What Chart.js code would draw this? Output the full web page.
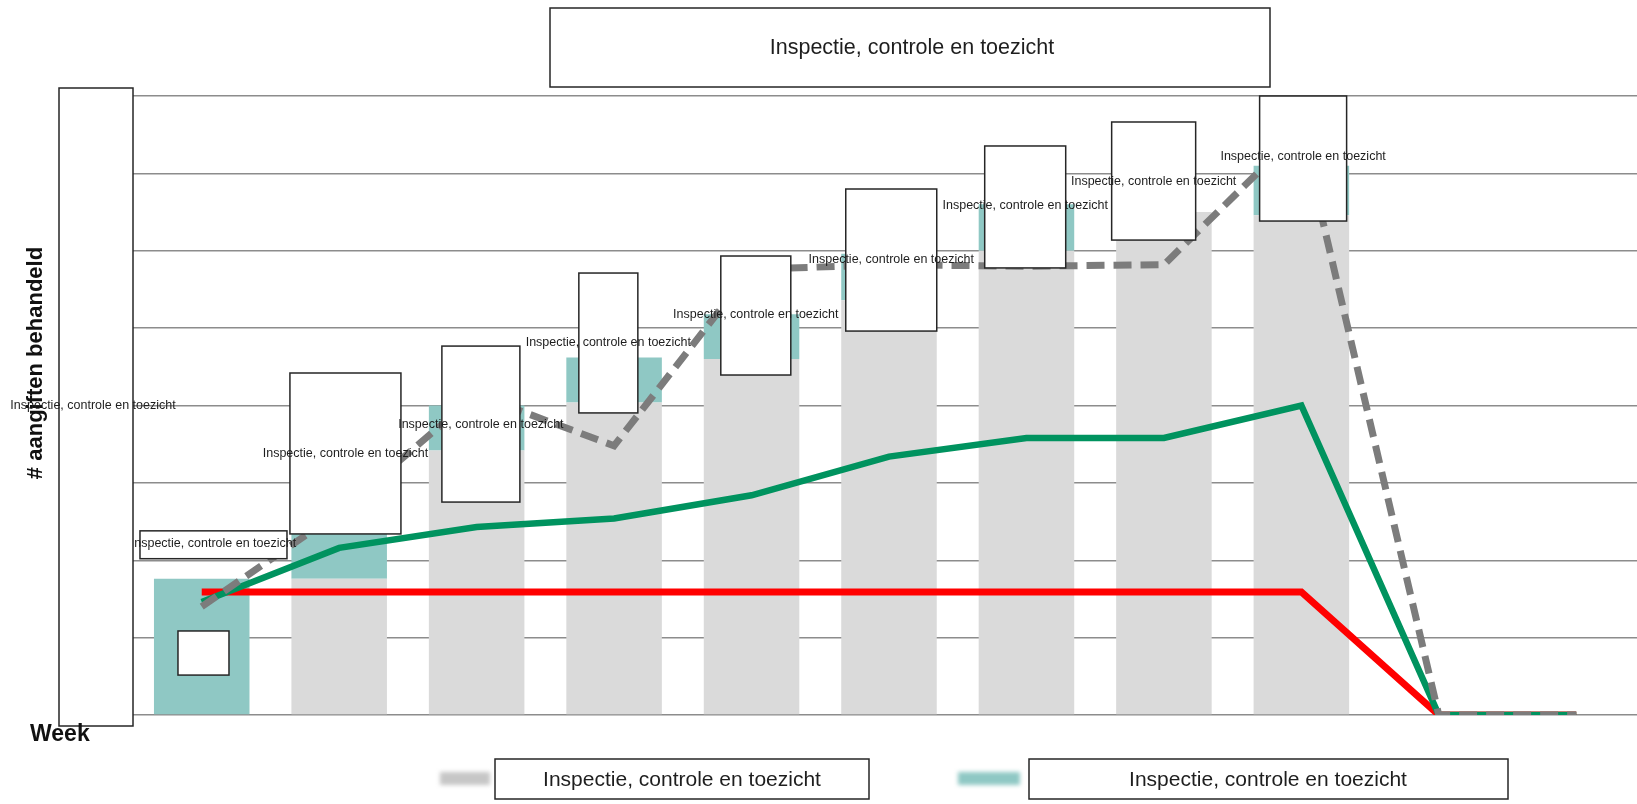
<!DOCTYPE html>
<html>
<head>
<meta charset="utf-8">
<script src="https://cdn.jsdelivr.net/npm/chart.js@4.4.1/dist/chart.umd.min.js"></script>
<style>
    body { margin: 0; background: #fff; overflow: hidden; }
    #wrap { width: 1645px; height: 804px; position: relative; }
</style>
</head>
<body>
<div id="wrap"><canvas id="weekly-chart"></canvas></div>
<script>
const weeks = ['1', '2', '3', '4', '5', '6', '7', '8', '9', '10', '11'];
const handled = [0, 88, 171, 202, 230, 268, 300, 325, 323, 0, 0];
const extra = [88, 29, 29, 29, 29, 30, 30, 0, 32, 0, 0];
const target = [79.5, 79.5, 79.5, 79.5, 79.5, 79.5, 79.5, 79.5, 79.5, 0, 0];
const average = [73, 108, 121.5, 127, 142, 167, 179, 179, 200, 0, 0];
const cumulative = [70, 131, 207, 174, 288, 291, 290, 291, 378, 0, 0];
const yTicks = [0, 50, 100, 150, 200, 250, 300, 350, 400];

const label = 'Inspectie, controle en toezicht';
const font = '"Liberation Sans", Arial, sans-serif';

// white cover boxes with a label, placed on the week they belong to
const covers = [
    { week: 0, dx: 11.75, w: 147, top: 119, bottom: 101, text: 111 },
    { week: 0, dx: 1.75, w: 51, top: 54.3, bottom: 25.8 },
    { week: 1, dx: 6.25, w: 111, top: 221, bottom: 117, text: 169 },
    { week: 2, dx: 4.25, w: 78, top: 238.4, bottom: 137.6, text: 188 },
    { week: 3, dx: -5.75, w: 59, top: 285.6, bottom: 195.2, text: 241 },
    { week: 4, dx: 4.25, w: 70, top: 296.6, bottom: 219.7, text: 259 },
    { week: 5, dx: 2.25, w: 91, top: 339.9, bottom: 248.1, text: 294 },
    { week: 6, dx: -1.25, w: 81, top: 367.7, bottom: 288.9, text: 329 },
    { week: 7, dx: -10.25, w: 84, top: 383.2, bottom: 306.9, text: 345 },
    { week: 8, dx: 1.75, w: 87, top: 400, bottom: 319.2, text: 360.6 }
];

function box(ctx, x, y, w, h) {
    ctx.fillStyle = '#fff';
    ctx.fillRect(x, y, w, h);
    ctx.strokeStyle = '#262626';
    ctx.lineWidth = 1.5;
    ctx.strokeRect(x, y, w, h);
}

const overlay = {
    id: 'overlay',
    afterDatasetsDraw(chart) {
        const { ctx, scales: { x, y } } = chart;
        ctx.save();
        covers.forEach(c => {
            const cx = x.getPixelForValue(c.week) + c.dx;
            const top = y.getPixelForValue(c.top);
            const bottom = y.getPixelForValue(c.bottom);
            box(ctx, cx - c.w / 2, top, c.w, bottom - top);
        });
        ctx.fillStyle = '#1e1e1e';
        ctx.font = '12.5px ' + font;
        ctx.textAlign = 'center';
        ctx.textBaseline = 'middle';
        covers.forEach(c => {
            if (c.text === undefined) return;
            ctx.fillText(label, x.getPixelForValue(c.week) + c.dx, y.getPixelForValue(c.text));
        });
        ctx.restore();
    },
    afterDraw(chart) {
        const { ctx, scales: { y } } = chart;
        ctx.save();

        // title
        box(ctx, 550, 8, 720, 79);
        ctx.fillStyle = '#1e1e1e';
        ctx.font = '21.5px ' + font;
        ctx.textAlign = 'center';
        ctx.textBaseline = 'middle';
        ctx.fillText(label, 912, 48);

        // y axis area
        box(ctx, 59, 88, 74, 638);
        ctx.save();
        ctx.translate(36, 363);
        ctx.rotate(-Math.PI / 2);
        ctx.font = 'bold 22px ' + font;
        ctx.fillStyle = '#111';
        ctx.fillText('# aangiften behandeld', 0, 0);
        ctx.restore();
        ctx.font = '12.5px ' + font;
        ctx.fillStyle = '#1e1e1e';
        ctx.fillText(label, 93, y.getPixelForValue(200));

        ctx.font = 'bold 23px ' + font;
        ctx.fillStyle = '#111';
        ctx.textAlign = 'left';
        ctx.fillText('Week', 30, 735);

        // legend
        ctx.filter = 'blur(2px)';
        ctx.fillStyle = '#c6c6c6';
        ctx.fillRect(440, 772, 50, 13);
        ctx.fillStyle = '#8fc8c4';
        ctx.fillRect(958, 772, 62, 13);
        ctx.filter = 'none';
        box(ctx, 495, 759, 374, 40);
        box(ctx, 1029, 759, 479, 40);
        ctx.font = '21px ' + font;
        ctx.fillStyle = '#1e1e1e';
        ctx.textAlign = 'center';
        ctx.fillText(label, 682, 780);
        ctx.fillText(label, 1268, 780);
        ctx.restore();
    }
};

document.addEventListener('DOMContentLoaded', function() {
    const ctx = document.getElementById('weekly-chart').getContext('2d');
    new Chart(ctx, {
        type: 'bar',
        data: {
            labels: weeks,
            datasets: [
                {
                    type: 'line',
                    label: 'cumulatief',
                    data: cumulative,
                    borderColor: '#7c7c7c',
                    borderWidth: 7,
                    borderDash: [18, 9],
                    pointRadius: 0,
                    tension: 0,
                    stack: 'd',
                    order: 0
                },
                {
                    type: 'line',
                    label: 'gemiddeld',
                    data: average,
                    borderColor: '#00935f',
                    borderWidth: 6.5,
                    pointRadius: 0,
                    tension: 0,
                    stack: 'g',
                    order: 1
                },
                {
                    type: 'line',
                    label: 'norm',
                    data: target,
                    borderColor: '#ff0000',
                    borderWidth: 7,
                    pointRadius: 0,
                    tension: 0,
                    stack: 'r',
                    order: 2
                },
                {
                    label: label,
                    data: handled,
                    backgroundColor: '#dadada',
                    stack: 'bars',
                    order: 3
                },
                {
                    label: label,
                    data: extra,
                    backgroundColor: '#8fc8c4',
                    stack: 'bars',
                    order: 4
                }
            ]
        },
        options: {
            responsive: true,
            maintainAspectRatio: false,
            animation: false,
            layout: {
                padding: { left: 133, right: 0, top: 96, bottom: 89 }
            },
            datasets: {
                bar: { barPercentage: 0.695, categoryPercentage: 1 }
            },
            plugins: {
                legend: { display: false },
                title: { display: false },
                tooltip: { enabled: false }
            },
            scales: {
                x: {
                    display: false,
                    stacked: true
                },
                y: {
                    stacked: true,
                    min: yTicks[0],
                    max: yTicks[yTicks.length - 1],
                    afterBuildTicks: axis => {
                        axis.ticks = yTicks.map(v => ({ value: v }));
                    },
                    ticks: { display: false },
                    border: { display: false },
                    grid: {
                        color: '#8c8c8c',
                        lineWidth: 1.5,
                        drawTicks: false
                    }
                }
            }
        },
        plugins: [overlay]
    });
});
</script>
</body>
</html>
